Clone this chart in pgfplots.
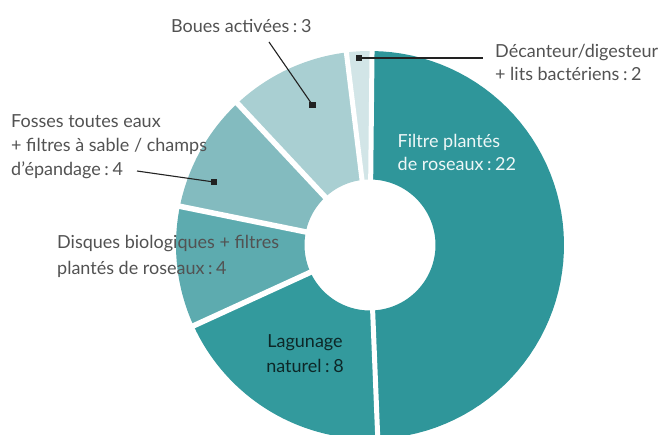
\documentclass[border=0pt]{standalone}
\usepackage{pgfplots}
\pgfplotsset{compat=1.18}
\usepackage{fontspec}
\setmainfont{Lato}
\definecolor{cA}{RGB}{47,150,154}
\definecolor{cB}{RGB}{51,154,157}
\definecolor{cC}{RGB}{93,171,175}
\definecolor{cD}{RGB}{131,187,191}
\definecolor{cE}{RGB}{169,207,210}
\definecolor{cF}{RGB}{210,229,231}
\definecolor{txt}{RGB}{82,82,82}
\definecolor{lead}{RGB}{34,34,34}
\newcommand{\cl}{\hspace{0.2em}:\hspace{0.2em}}
% sector: colour, start angle, end angle (screen degrees, counter-clockwise; start > end)
\newcommand{\sector}[3]{%
 \addplot[fill=#1, draw=none, samples at={0,1,...,121}, variable=\t]
 ({370+(\t<60.5 ? 194 : 65.5)*cos(\t<60.5 ? (#2)+((#3)-(#2))*\t/60 : (#3)-((#3)-(#2))*(\t-61)/60)},
  {245-(\t<60.5 ? 194 : 65.5)*sin(\t<60.5 ? (#2)+((#3)-(#2))*\t/60 : (#3)-((#3)-(#2))*(\t-61)/60)});
}
% white gap along a slice boundary at angle #1, width #2
\newcommand{\gap}[2]{%
 \addplot[white, line width=#2, domain=50:210, samples=2]
 ({370+x*cos(#1)},{245-x*sin(#1)});
}
\begin{document}
\begin{tikzpicture}
\begin{axis}[scale only axis, width=661pt, height=435pt,
  xmin=0, xmax=661, ymin=0, ymax=435, y dir=reverse,
  hide axis, clip=true]
% angular extent of each slice as drawn (degrees, screen orientation)
% Filtre plantés de roseaux : 22
\sector{cA}{89.4}{-87.7}
% Lagunage naturel : 8
\sector{cB}{-87.7}{-155.4}
% Disques biologiques + filtres plantés de roseaux : 4
\sector{cC}{-155.4}{-191.5}
% Fosses toutes eaux + filtres à sable / champs d'épandage : 4
\sector{cD}{-191.5}{-226.9}
% Boues activées : 3
\sector{cE}{-226.9}{-263}
% Décanteur/digesteur + lits bactériens : 2
\sector{cF}{-263}{-270.6}
\gap{89.4}{5pt}
\gap{-87.7}{5pt}
\gap{-155.4}{5.5pt}
\gap{-191.5}{5.5pt}
\gap{-226.9}{5.5pt}
\gap{-263}{5pt}
% leaders
\addplot[lead, line width=1.1pt, mark=square*, mark size=2.8pt, mark indices={2}] coordinates {(269,42) (312.5,105)};
\addplot[lead, line width=1.1pt, mark=square*, mark size=2.8pt, mark indices={1}] coordinates {(359,58) (483,58)};
\addplot[lead, line width=1.1pt, mark=square*, mark size=2.8pt, mark indices={2}] coordinates {(137,171) (214,182)};
\begin{scope}[every node/.style={inner sep=0pt, font=\fontsize{18}{24}\selectfont}]
\node[anchor=base west, txt] at (axis cs:171,32.7) {Boues activées\cl3};
\node[anchor=base west, txt] at (axis cs:495,57.7) {Décanteur/digesteur};
\node[anchor=base west, txt] at (axis cs:495,81) {+ lits bactériens\cl2};
\node[anchor=base west, txt] at (axis cs:11,127.7) {Fosses toutes eaux};
\node[anchor=base west, txt] at (axis cs:11,151.7) {+ filtres à sable / champs};
\node[anchor=base west, txt] at (axis cs:11,176) {d’épandage\cl4};
\node[anchor=base west, txt] at (axis cs:57,249) {Disques biologiques + filtres};
\node[anchor=base west, txt] at (axis cs:57,274.5) {plantés de roseaux\cl4};
\node[anchor=base west, white!92!cA] at (axis cs:397.5,147.5) {Filtre plantés};
\node[anchor=base west, white!92!cA] at (axis cs:397.5,171) {de roseaux\cl22};
\node[anchor=base, black!75!cB] at (axis cs:305,348) {Lagunage};
\node[anchor=base, black!75!cB] at (axis cs:305,373) {naturel\cl8};
\end{scope}
\end{axis}
\pgfresetboundingbox
\path[use as bounding box] (0,0) rectangle (661pt,435pt);
\end{tikzpicture}
\end{document}
